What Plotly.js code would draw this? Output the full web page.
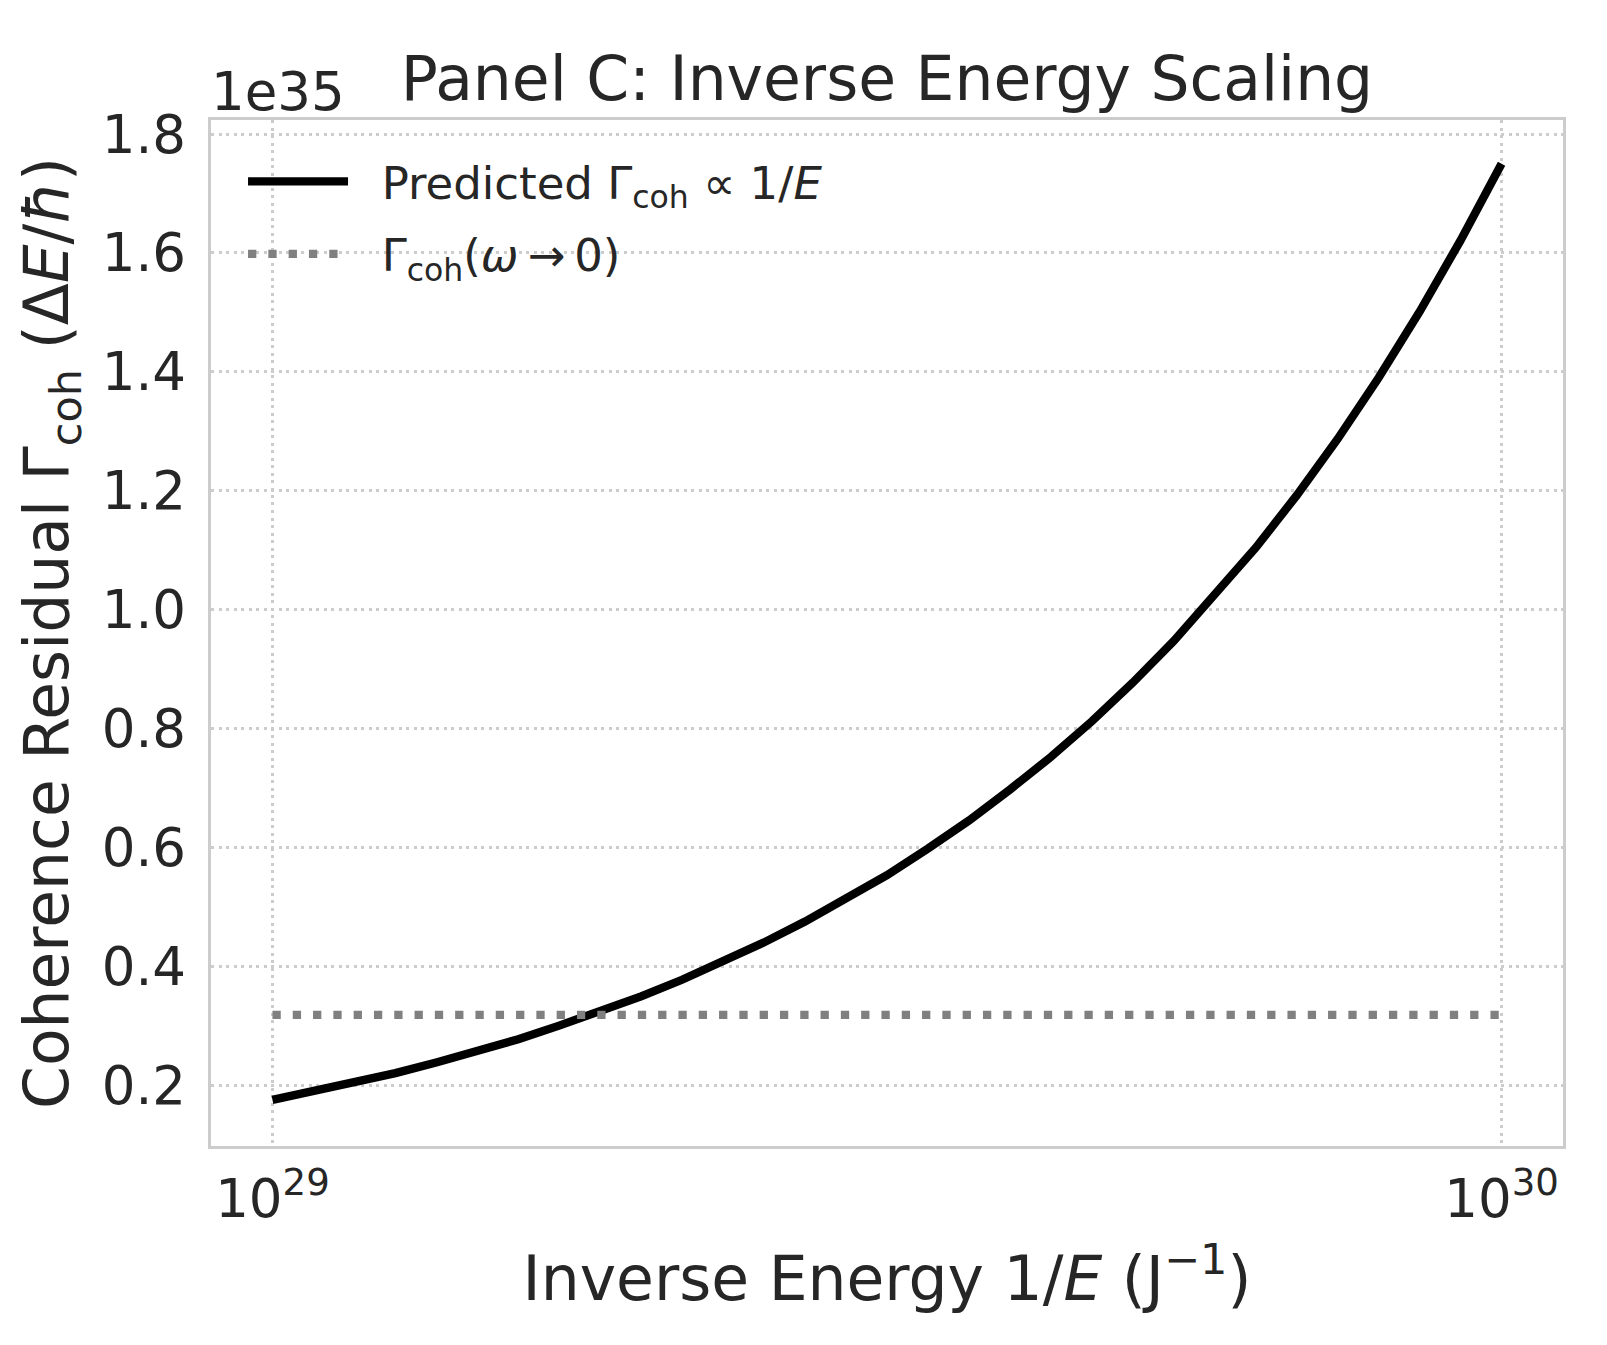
<!DOCTYPE html>
<html>
<head>
<meta charset="utf-8">
<script src="https://cdn.plot.ly/plotly-3.0.1.min.js"></script>
<style>
  html, body { margin: 0; padding: 0; background: #ffffff; }
  #chart { width: 1607px; height: 1345px; }
</style>
</head>
<body>
<div id="chart"></div>
<script>
// ---- data ----
// inverse energy 1/E in J^-1
const inverseEnergy = [1.000e29, 1.080e29, 1.166e29, 1.259e29, 1.359e29, 1.468e29, 1.585e29, 1.711e29,
                       1.848e29, 1.995e29, 2.154e29, 2.326e29, 2.512e29, 2.712e29, 2.929e29, 3.162e29,
                       3.415e29, 3.687e29, 3.981e29, 4.299e29, 4.642e29, 5.012e29, 5.412e29, 5.843e29,
                       6.310e29, 6.813e29, 7.356e29, 7.943e29, 8.577e29, 9.261e29, 1.000e30];
// predicted coherence residual, in units of 1e35 (ΔE/ħ)
const gammaPredicted = [0.175, 0.189, 0.204, 0.220, 0.238, 0.257, 0.277, 0.300,
                        0.323, 0.349, 0.377, 0.407, 0.440, 0.475, 0.513, 0.553,
                        0.598, 0.645, 0.697, 0.752, 0.812, 0.877, 0.947, 1.023,
                        1.104, 1.192, 1.287, 1.390, 1.501, 1.621, 1.750];
// zero-frequency limit, in units of 1e35
const limitX = [1.000e29, 1.000e30];
const gammaLimit = [0.318, 0.318];
// tick labels
const xTickVals = [1e29, 1e30];
const xTickText = ['10<sup>29</sup>', '10<sup>30</sup>'];
const yTickVals = [0.2, 0.4, 0.6, 0.8, 1.0, 1.2, 1.4, 1.6, 1.8];
const offsetText = '1e35';

const FONT = '"DejaVu Sans", "Liberation Sans", sans-serif';
const TEXT = '#262626';
const GRID = '#cccccc';
const PAD = '\u00A0\u00A0';

const traces = [
  {
    x: inverseEnergy, y: gammaPredicted, type: 'scatter', mode: 'lines',
    name: PAD + 'Predicted Γ<sub>coh</sub> ∝ 1/<i>E</i>',
    legendgroup: 'a',
    line: { color: '#000000', width: 8.3 }
  },
  {
    x: limitX, y: gammaLimit, type: 'scatter', mode: 'lines',
    name: PAD + 'Γ<sub>coh</sub>(<i>ω</i>\u2009→\u20090)',
    legendgroup: 'b',
    line: { color: '#808080', width: 8.3, dash: '8.3px,12px' }
  }
];

const layout = {
  width: 1607, height: 1345,
  paper_bgcolor: '#ffffff', plot_bgcolor: '#ffffff',
  margin: { l: 211, r: 44, t: 120, b: 199, pad: 0 },
  font: { family: FONT, color: TEXT, size: 53 },
  title: {
    text: 'Panel C: Inverse Energy Scaling',
    font: { family: FONT, size: 61.5, color: TEXT },
    xref: 'paper', x: 0.5, xanchor: 'center',
    yref: 'container', y: 1 - 78 / 1345, yanchor: 'middle'
  },
  showlegend: true,
  legend: {
    x: 0.0237, y: 0.975, xanchor: 'left', yanchor: 'top',
    bgcolor: 'rgba(0,0,0,0)', borderwidth: 0,
    font: { family: FONT, size: 45, color: TEXT },
    itemwidth: 100, traceorder: 'grouped', tracegroupgap: 11
  },
  xaxis: {
    type: 'log',
    range: [28.95, 30.05],
    tickmode: 'array', tickvals: xTickVals, ticktext: xTickText,
    ticks: '', ticklabelstandoff: 4,
    tickfont: { family: FONT, size: 53, color: TEXT },
    showgrid: true, gridcolor: GRID, gridwidth: 3, griddash: '3px,4.5px',
    showline: true, linecolor: GRID, linewidth: 3.3, mirror: true,
    zeroline: false,
    title: { text: 'Inverse Energy 1/<i>E</i> (J<sup>−1</sup>)', font: { family: FONT, size: 61.5, color: TEXT }, standoff: 30 }
  },
  yaxis: {
    range: [0.0974, 1.8236],
    tickmode: 'array', tickvals: yTickVals, tickformat: '.1f',
    ticks: '', ticklabelstandoff: 11,
    tickfont: { family: FONT, size: 53, color: TEXT },
    showgrid: true, gridcolor: GRID, gridwidth: 3, griddash: '3px,4.5px',
    showline: true, linecolor: GRID, linewidth: 3.3, mirror: true,
    zeroline: false,
    title: { text: 'Coherence Residual Γ<sub>coh</sub> (Δ<i>E</i>/<i>ħ</i>)', font: { family: FONT, size: 61.5, color: TEXT }, standoff: 14 }
  },
  annotations: [
    {
      text: offsetText, xref: 'paper', yref: 'paper',
      x: -0.0015, y: 1 + (120 - 91.5) / 1026, xanchor: 'left', yanchor: 'middle',
      showarrow: false, font: { family: FONT, size: 53, color: TEXT }
    }
  ]
};

Plotly.newPlot('chart', traces, layout, { displayModeBar: false, staticPlot: true });
</script>
</body>
</html>
